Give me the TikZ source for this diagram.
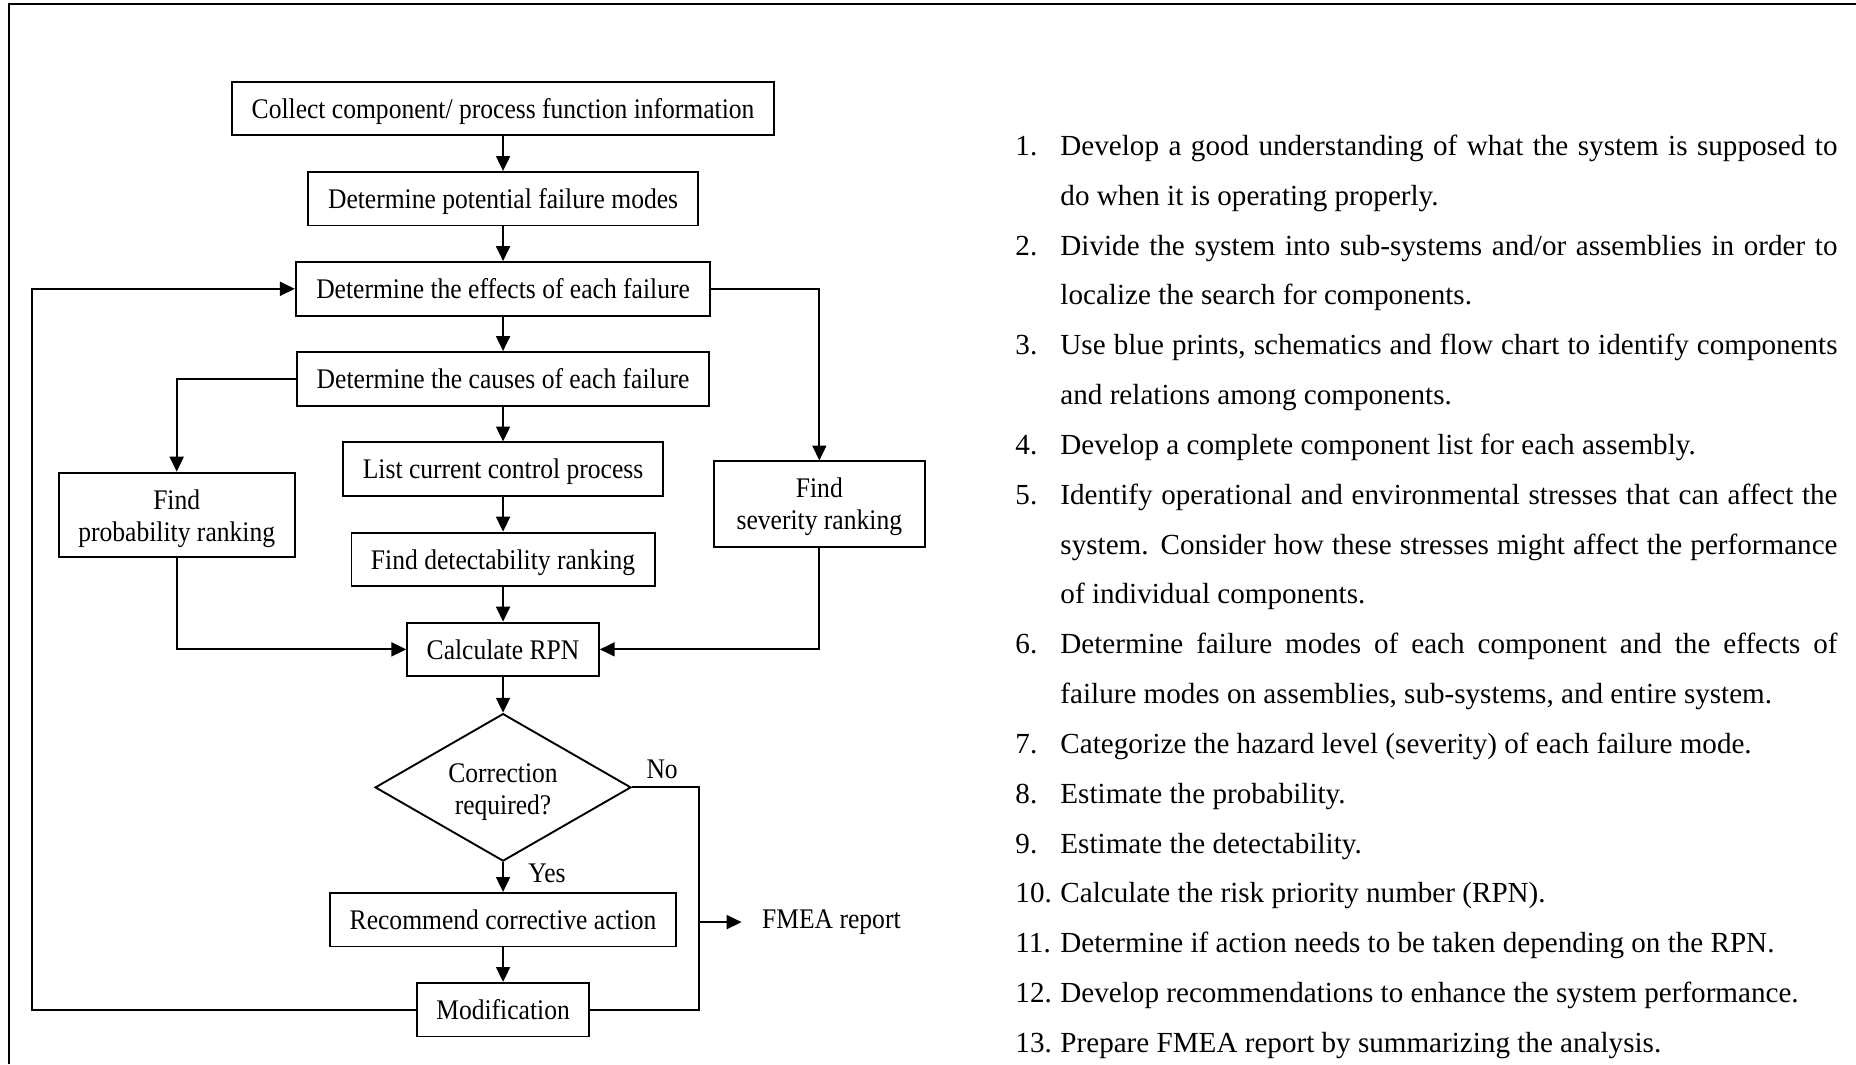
\documentclass[tikz,border=0pt]{standalone}
\usepackage{fontspec}
\setmainfont{Liberation Serif}
\newfontfamily\boxfont{Liberation Serif}[FakeStretch=0.9]
\newfontfamily\listfont{Liberation Serif}
\usetikzlibrary{arrows.meta,shapes.geometric}
\newcommand\fmitem[1]{\par\noindent\hangindent=19pt\hangafter=1\strut\makebox[19pt][l]{#1}\ignorespaces}
\begin{document}
\begin{tikzpicture}[x=0.5pt,y=-0.5pt,
  every node/.style={inner sep=0pt},
  fbox/.style={draw, line width=0.8pt, align=center, minimum height=22.65pt,
    text height=8.2pt, text depth=0pt,
    font=\boxfont\fontsize{12}{13.5}\selectfont},
  tallbox/.style={draw, line width=0.8pt, align=center,
    font=\boxfont\fontsize{12}{13.5}\selectfont},
  decision/.style={draw, diamond, aspect=1.735, line width=0.8pt, align=center,
    minimum width=108.1pt, minimum height=62.3pt,
    font=\boxfont\fontsize{12}{13.5}\selectfont},
  lbl/.style={font=\boxfont\fontsize{12}{13.5}\selectfont},
  conn/.style={line width=0.8pt},
  arr/.style={conn, -{Triangle[length=6.3pt,width=5.9pt]}}]
\useasboundingbox (0,0) rectangle (1568,899);
\fill[white] (0,0) rectangle (1568,899);
% frame
\draw[line width=0.85pt] (7.6,899) -- (7.6,3.4) -- (1568,3.4);
% flowchart nodes
\node[fbox, minimum width=228.9pt] (b1) at (425,91.7) {Collect component/ process function information};
\node[fbox, minimum width=164.75pt] (b2) at (425,167.9) {Determine potential failure modes};
\node[fbox, minimum width=175.1pt] (b3) at (425,244) {Determine the effects of each failure};
\node[fbox, minimum width=174.3pt] (b4) at (425,320) {Determine the causes of each failure};
\node[fbox, minimum width=135.05pt] (b5) at (425,396.4) {List current control process};
\node[fbox, minimum width=128.05pt] (b6) at (425,472.6) {Find detectability ranking};
\node[fbox, minimum width=80.95pt] (b7) at (425,548.6) {Calculate RPN};
\node[decision] (d) at (425,665.2) {\rule{0pt}{12.2pt}Correction\\required?};
\node[fbox, minimum width=146.4pt] (b8) at (425,777) {Recommend corrective action};
\node[fbox, minimum width=72.95pt] (b9) at (425,853) {Modification};
\node[tallbox, minimum width=99.6pt, minimum height=35.75pt] (prob) at (149.3,435) {\rule{0pt}{11.2pt}Find\\probability ranking};
\node[tallbox, minimum width=89pt, minimum height=36.2pt] (sev) at (692.2,426) {\rule{0pt}{10.2pt}Find\\severity ranking};
\node[lbl, anchor=base west] (no) at (545.8,658) {No};
\node[lbl, anchor=base west] (yes) at (446,745.6) {Yes};
\node[lbl, anchor=west] (fmea) at (643.5,779) {FMEA report};
% coordinates
\coordinate (fbl) at (26.9,853);
\coordinate (nr) at (590.8,665.2);
\coordinate (fs) at (590.8,779);
% connectors
\draw[arr] (b1) -- (b2);
\draw[arr] (b2) -- (b3);
\draw[arr] (b3) -- (b4);
\draw[arr] (b4) -- (b5);
\draw[arr] (b5) -- (b6);
\draw[arr] (b6) -- (b7);
\draw[arr] (b7) -- (d);
\draw[arr] (d) -- (b8);
\draw[arr] (b8) -- (b9);
\draw[arr] (b3.east) -| (sev.north);
\draw[arr] (b4.west) -| (prob.north);
\draw[arr] (prob.south) |- (b7.west);
\draw[arr] (sev.south) |- (b7.east);
\draw[arr] (b9.west) -- (fbl) |- (b3.west);
\draw[conn] (d.east) -- (nr) |- (b9.east);
\draw[arr, shorten >=8.5pt] (fs) -- (fmea.west);
% list
\node[anchor=north west, text width=347.25pt, align=justify,
  font=\listfont\fontsize{12.3}{21.05}\selectfont] (steps) at (857.5,88.8) {%
\tolerance=9999 \hbadness=10000 \hyphenpenalty=10000 \exhyphenpenalty=10000 \parskip=0pt
\fmitem{1.}Develop a good understanding of what the system is supposed to\linebreak do when it is operating properly.
\fmitem{2.}Divide the system into sub-systems and/or assemblies in order to\linebreak localize the search for components.
\fmitem{3.}Use blue prints, schematics and flow chart to identify components\linebreak and relations among components.
\fmitem{4.}Develop a complete component list for each assembly.
\fmitem{5.}Identify operational and environmental stresses that can affect the\linebreak system. Consider how these stresses might affect the performance\linebreak of individual components.
\fmitem{6.}Determine failure modes of each component and the effects of\linebreak failure modes on assemblies, sub-systems, and entire system.
\fmitem{7.}Categorize the hazard level (severity) of each failure mode.
\fmitem{8.}Estimate the probability.
\fmitem{9.}Estimate the detectability.
\fmitem{10.}Calculate the risk priority number (RPN).
\fmitem{11.}Determine if action needs to be taken depending on the RPN.
\fmitem{12.}Develop recommendations to enhance the system performance.
\fmitem{13.}Prepare FMEA report by summarizing the analysis.\par}; 
\end{tikzpicture}
\end{document}
